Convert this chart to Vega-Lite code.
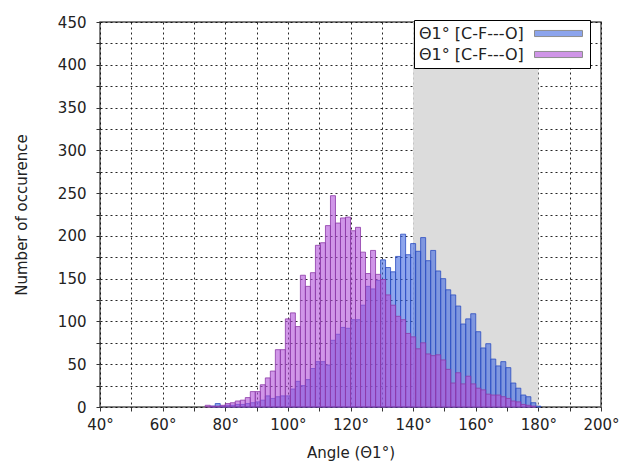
{
  "$schema": "https://vega.github.io/schema/vega-lite/v6.json",
  "width": 501,
  "height": 385,
  "autosize": {"type": "none"},
  "padding": {"left": 100, "top": 22, "right": 20, "bottom": 58},
  "background": "white",
  "config": {
    "font": "DejaVu Sans",
    "view": {"stroke": "#555", "strokeWidth": 1.5},
    "axis": {
      "grid": true,
      "gridColor": "#000",
      "gridDash": [2, 3],
      "gridOpacity": 0.85,
      "gridWidth": 1,
      "domain": false,
      "ticks": true,
      "tickColor": "#333",
      "tickSize": 4,
      "labelFlush": false,
      "labelFont": "DejaVu Sans",
      "labelFontSize": 15,
      "labelColor": "#222",
      "titleFont": "DejaVu Sans",
      "titleFontSize": 15,
      "titleFontWeight": "normal",
      "titleColor": "#222",
      "zindex": 1
    }
  },
  "datasets": {
    "hist": [
      {"lo": 73.6, "hi": 75.2, "b": 0, "p": 2},
      {"lo": 75.2, "hi": 76.8, "b": 1, "p": 1},
      {"lo": 76.8, "hi": 78.4, "b": 4, "p": 1},
      {"lo": 78.4, "hi": 80.0, "b": 1, "p": 2},
      {"lo": 80.0, "hi": 81.6, "b": 2, "p": 4},
      {"lo": 81.6, "hi": 83.2, "b": 2, "p": 5},
      {"lo": 83.2, "hi": 84.8, "b": 3, "p": 7},
      {"lo": 84.8, "hi": 86.4, "b": 3, "p": 8},
      {"lo": 86.4, "hi": 88.0, "b": 4, "p": 11},
      {"lo": 88.0, "hi": 89.6, "b": 5, "p": 18},
      {"lo": 89.6, "hi": 91.2, "b": 6, "p": 18},
      {"lo": 91.2, "hi": 92.8, "b": 8, "p": 26},
      {"lo": 92.8, "hi": 94.4, "b": 13, "p": 34},
      {"lo": 94.4, "hi": 96.0, "b": 10, "p": 42},
      {"lo": 96.0, "hi": 97.6, "b": 12, "p": 67},
      {"lo": 97.6, "hi": 99.2, "b": 13, "p": 67},
      {"lo": 99.2, "hi": 100.8, "b": 13, "p": 103},
      {"lo": 100.8, "hi": 102.4, "b": 21, "p": 110},
      {"lo": 102.4, "hi": 104.0, "b": 30, "p": 94},
      {"lo": 104.0, "hi": 105.6, "b": 25, "p": 154},
      {"lo": 105.6, "hi": 107.2, "b": 32, "p": 141},
      {"lo": 107.2, "hi": 108.8, "b": 45, "p": 157},
      {"lo": 108.8, "hi": 110.4, "b": 53, "p": 189},
      {"lo": 110.4, "hi": 112.0, "b": 53, "p": 192},
      {"lo": 112.0, "hi": 113.6, "b": 49, "p": 212},
      {"lo": 113.6, "hi": 115.2, "b": 78, "p": 247},
      {"lo": 115.2, "hi": 116.8, "b": 85, "p": 215},
      {"lo": 116.8, "hi": 118.4, "b": 93, "p": 221},
      {"lo": 118.4, "hi": 120.0, "b": 92, "p": 222},
      {"lo": 120.0, "hi": 121.6, "b": 102, "p": 206},
      {"lo": 121.6, "hi": 123.2, "b": 102, "p": 210},
      {"lo": 123.2, "hi": 124.8, "b": 119, "p": 181},
      {"lo": 124.8, "hi": 126.4, "b": 141, "p": 156},
      {"lo": 126.4, "hi": 128.0, "b": 138, "p": 183},
      {"lo": 128.0, "hi": 129.6, "b": 148, "p": 155},
      {"lo": 129.6, "hi": 131.2, "b": 172, "p": 149},
      {"lo": 131.2, "hi": 132.8, "b": 163, "p": 131},
      {"lo": 132.8, "hi": 134.4, "b": 158, "p": 119},
      {"lo": 134.4, "hi": 136.0, "b": 176, "p": 106},
      {"lo": 136.0, "hi": 137.6, "b": 202, "p": 102},
      {"lo": 137.6, "hi": 139.2, "b": 178, "p": 86},
      {"lo": 139.2, "hi": 140.8, "b": 191, "p": 82},
      {"lo": 140.8, "hi": 142.4, "b": 182, "p": 68},
      {"lo": 142.4, "hi": 144.0, "b": 198, "p": 75},
      {"lo": 144.0, "hi": 145.6, "b": 171, "p": 62},
      {"lo": 145.6, "hi": 147.2, "b": 183, "p": 60},
      {"lo": 147.2, "hi": 148.8, "b": 159, "p": 61},
      {"lo": 148.8, "hi": 150.4, "b": 150, "p": 55},
      {"lo": 150.4, "hi": 152.0, "b": 137, "p": 44},
      {"lo": 152.0, "hi": 153.6, "b": 131, "p": 28},
      {"lo": 153.6, "hi": 155.2, "b": 118, "p": 40},
      {"lo": 155.2, "hi": 156.8, "b": 97, "p": 27},
      {"lo": 156.8, "hi": 158.4, "b": 103, "p": 36},
      {"lo": 158.4, "hi": 160.0, "b": 109, "p": 27},
      {"lo": 160.0, "hi": 161.6, "b": 88, "p": 22},
      {"lo": 161.6, "hi": 163.2, "b": 69, "p": 20},
      {"lo": 163.2, "hi": 164.8, "b": 74, "p": 15},
      {"lo": 164.8, "hi": 166.4, "b": 56, "p": 14},
      {"lo": 166.4, "hi": 168.0, "b": 48, "p": 14},
      {"lo": 168.0, "hi": 169.6, "b": 53, "p": 12},
      {"lo": 169.6, "hi": 171.2, "b": 46, "p": 10},
      {"lo": 171.2, "hi": 172.8, "b": 28, "p": 7},
      {"lo": 172.8, "hi": 174.4, "b": 22, "p": 6},
      {"lo": 174.4, "hi": 176.0, "b": 14, "p": 3},
      {"lo": 176.0, "hi": 177.6, "b": 12, "p": 2},
      {"lo": 177.6, "hi": 179.2, "b": 5, "p": 1},
      {"lo": 179.2, "hi": 180.8, "b": 1, "p": 0}
    ]
  },
  "encoding": {
    "x": {
      "field": "lo",
      "type": "quantitative",
      "scale": {"domain": [40, 200], "nice": false},
      "axis": {
        "title": "Angle (Θ1°)",
        "values": [40, 50, 60, 70, 80, 90, 100, 110, 120, 130, 140, 150, 160, 170, 180, 190, 200],
        "labelExpr": "datum.value % 20 == 0 ? datum.value + '°' : ''",
        "labelPadding": 6,
        "titlePadding": 13
      }
    },
    "x2": {"field": "hi"}
  },
  "layer": [
    {
      "data": {"values": [{"lo": 140, "hi": 180}]},
      "mark": {"type": "rect", "color": "#dcdcdc"}
    },
    {
      "data": {"name": "hist"},
      "transform": [
        {"fold": ["b", "p"], "as": ["s", "n"]},
        {"filter": "datum.n > 0"}
      ],
      "encoding": {
        "y": {
          "field": "n",
          "type": "quantitative",
          "scale": {"domain": [0, 450], "nice": false},
          "axis": {
            "title": "Number of occurence",
            "values": [0, 25, 50, 75, 100, 125, 150, 175, 200, 225, 250, 275, 300, 325, 350, 375, 400, 425, 450],
            "labelExpr": "datum.value % 50 == 0 ? datum.label : ''",
            "labelPadding": 10,
            "titlePadding": 28
          }
        },
        "y2": {"datum": 0},
        "color": {
          "field": "s",
          "type": "nominal",
          "scale": {"domain": ["b", "p"], "range": ["#4169e1", "#b050d8"]},
          "legend": {
            "title": null,
            "orient": "none",
            "legendX": 314,
            "legendY": -2,
            "direction": "vertical",
            "labelExpr": "'Θ1° [C-F---O]'",
            "labelFont": "DejaVu Sans",
            "labelFontSize": 16,
            "labelColor": "#222",
            "symbolType": "M-3,-0.38H3V0.38H-3Z",
            "symbolSize": 256,
            "symbolOpacity": 0.6,
            "symbolStrokeColor": "#444",
            "symbolStrokeWidth": 1,
            "symbolOffset": 131,
            "labelOffset": -148,
            "rowPadding": 4,
            "padding": 5,
            "strokeColor": "#000",
            "fillColor": "white"
          }
        }
      },
      "layer": [
        {
          "transform": [{"filter": "datum.s == 'b'"}],
          "mark": {"type": "bar", "fillOpacity": 0.6, "stroke": "#2a4cc0", "strokeWidth": 1, "strokeOpacity": 0.8}
        },
        {
          "transform": [{"filter": "datum.s == 'p'"}],
          "mark": {"type": "bar", "fillOpacity": 0.6, "stroke": "#8c3aa8", "strokeWidth": 1, "strokeOpacity": 0.8}
        }
      ]
    }
  ]
}
